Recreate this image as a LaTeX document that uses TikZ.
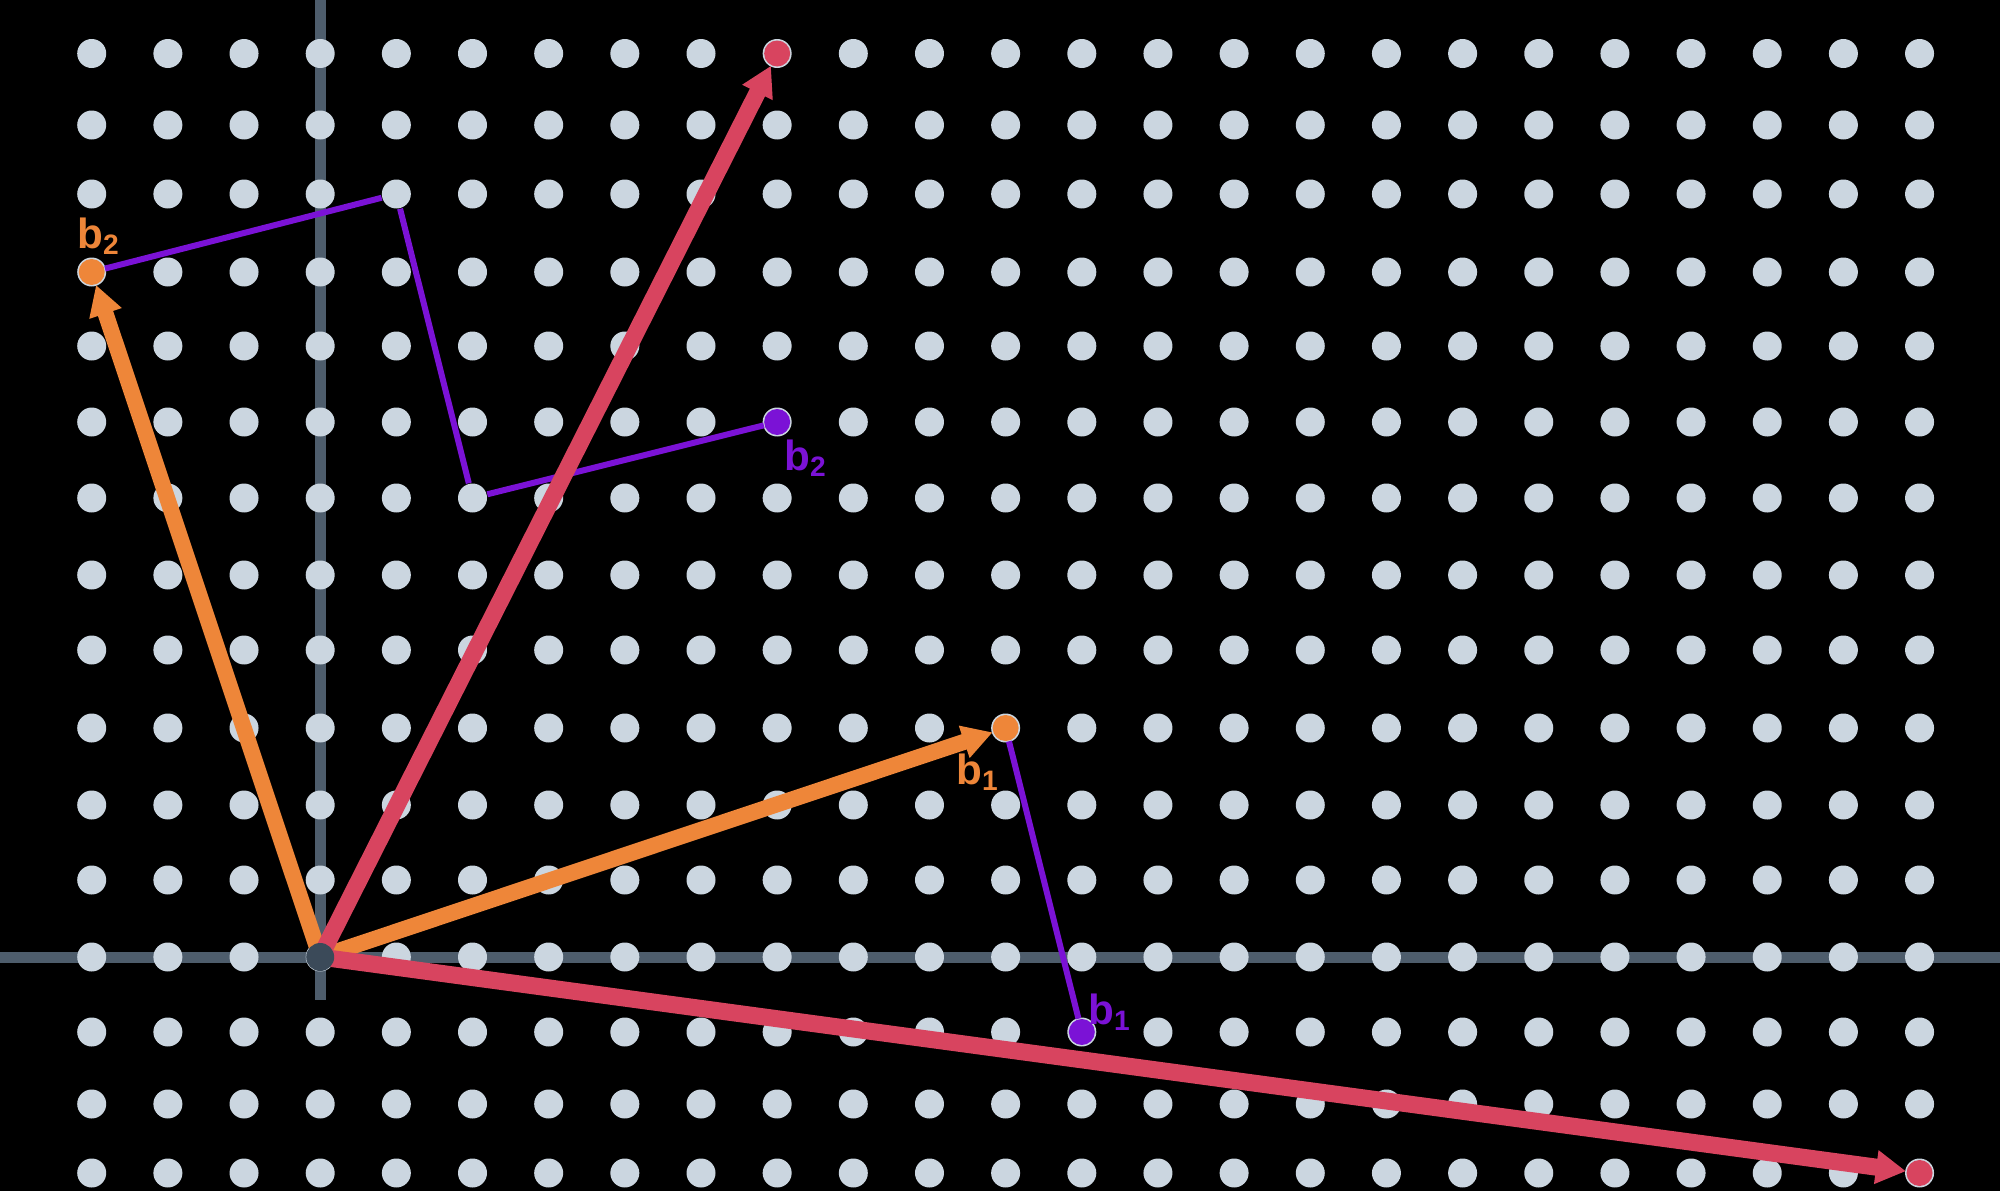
\documentclass[tikz,border=0pt]{standalone}
\usepackage{fontspec}
\setsansfont{Liberation Sans}
\usetikzlibrary{arrows.meta}
\definecolor{dotc}{HTML}{CBD6E0}
\definecolor{axisc}{HTML}{4E5D6C}
\definecolor{origc}{HTML}{3B4A59}
\definecolor{redc}{HTML}{D8445F}
\definecolor{orc}{HTML}{EE8639}
\definecolor{puc}{HTML}{7B12D6}
\begin{document}
\begin{tikzpicture}[x=0.1mm,y=-0.1mm,
  latt/.style={circle,fill=dotc,inner sep=0pt,minimum size=2.9mm},
  tipdot/.style={circle,inner sep=0pt,minimum size=2.6mm},
  axisline/.style={draw=axisc,line width=1.1mm},
  redv/.style={draw=redc,line width=1.7mm,-{Triangle[length=3mm,width=3.2mm]}},
  orv/.style={draw=orc,line width=1.6mm,-{Triangle[length=3mm,width=3.2mm]}},
  purv/.style={draw=puc,line width=0.6mm,line join=round},
  lab/.style={font=\fontsize{12}{14}\selectfont\sffamily\bfseries,inner sep=0pt}]
\fill[black] (0,0) rectangle (2000,1191);
\useasboundingbox (0,0) rectangle (2000,1191);
% axes
\coordinate (axL) at (0,957);
\coordinate (axR) at (2000,957);
\coordinate (ayT) at (320.2,0);
\coordinate (ayB) at (320.2,1000);
\draw[axisline] (axL) -- (axR);
\draw[axisline] (ayT) -- (ayB);
% lattice
\foreach \c in {-3,...,21}{
  \foreach \i in {0,...,15}{
    \pgfmathsetmacro\yy{{53.5,125,194,272,346,422,498,575,650,728,805,880,957,1032,1104,1173}[\i]}
    \pgfmathtruncatemacro\r{12-\i}
    \node[latt] (d\c r\r) at ({320.2+76.16*\c},\yy) {};
  }
}
\coordinate (O) at (d0r0);
% endpoint dots
\node[tipdot,fill=orc] (b1) at (d9r3) {};
\node[tipdot,fill=orc] (b2) at (d-3r9) {};
\node[tipdot,fill=redc] (v1) at (d6r12) {};
\node[tipdot,fill=redc] (v2) at (d21r-3) {};
\node[tipdot,fill=puc] (pb2) at (d6r7) {};
\node[tipdot,fill=puc] (pb1) at (d10r-1) {};
% purple paths
\draw[purv] (b2) -- (d1r10) -- (d2r6) -- (pb2);
\draw[purv] (b1) -- (pb1);
% orange vectors
\draw[orv] (O) -- (b1);
\draw[orv] (O) -- (b2);
% red vectors
\draw[redv] (O) -- (v1);
\draw[redv] (O) -- (v2);
% origin
\node[circle,fill=origc,inner sep=0pt,minimum size=2.8mm] (Odot) at (O) {};
% labels
\node[lab,text=orc] (lb2) at (99,236) {b\textsubscript{2}};
\node[lab,text=orc] (lb1) at (978,772) {b\textsubscript{1}};
\node[lab,text=puc] (lpb2) at (806,458) {b\textsubscript{2}};
\node[lab,text=puc] (lpb1) at (1110,1012) {b\textsubscript{1}};
\end{tikzpicture}
\end{document}
